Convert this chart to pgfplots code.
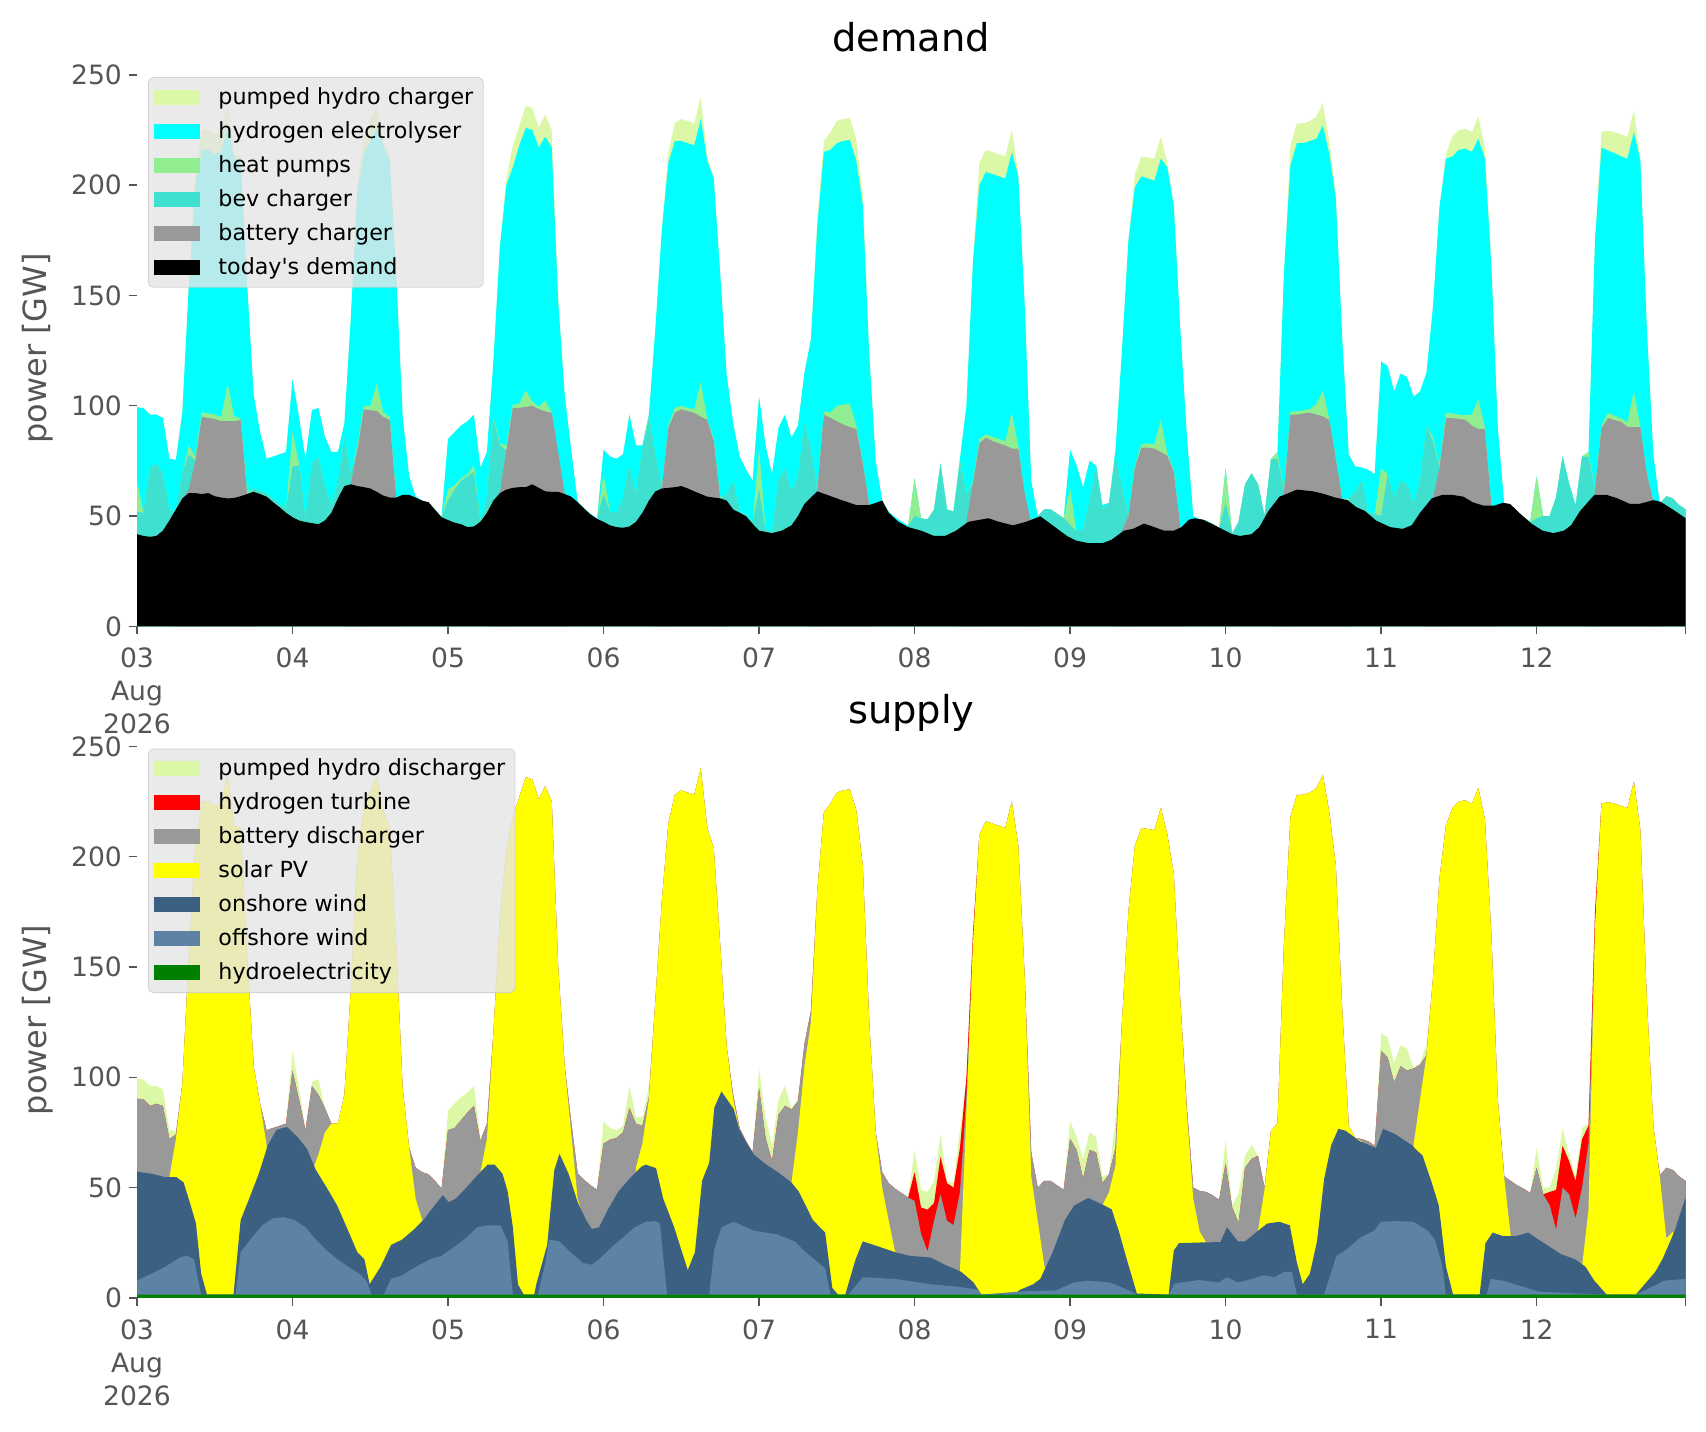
\documentclass[border=0pt]{standalone}
\usepackage{fontspec}
\setmainfont{DejaVu Sans}
\usepackage{pgfplots}
\pgfplotsset{compat=1.18}
\usepackage{pgfplotstable}

\definecolor{cPH}{RGB}{218,248,166}
\definecolor{cH2}{RGB}{0,255,255}
\definecolor{cHP}{RGB}{144,238,144}
\definecolor{cBEV}{RGB}{64,224,208}
\definecolor{cBat}{RGB}{153,153,153}
\definecolor{cRed}{RGB}{255,0,0}
\definecolor{cSol}{RGB}{255,255,0}
\definecolor{cOn}{RGB}{59,96,130}
\definecolor{cOff}{RGB}{92,130,164}
\definecolor{cHyd}{RGB}{0,128,0}
\definecolor{labelgray}{RGB}{85,85,85}
\definecolor{legendbg}{RGB}{229,229,229}
\definecolor{legendborder}{RGB}{204,204,204}

\newcommand\ticklabelfont{\fontsize{13.3pt}{16.5pt}\selectfont}
\newcommand\legendfont{\fontsize{11.1pt}{13.3pt}\selectfont}
\newcommand\ylabelfont{\fontsize{16pt}{19pt}\selectfont}
\newcommand\titlefont{\fontsize{19.2pt}{23pt}\selectfont}

% h = hour from 3 Aug 2026 00:00; tot = total demand = total supply (GW)
% dp = pumped hydro charger, sp = pumped hydro discharger, red = hydrogen turbine
\pgfplotstableread{
h tot dp sp red
0 99.3 0 9 0
1 99 0 9 0
2 96 0 9 0
3 96 0 8 0
4 94.5 0 7.5 0
5 76 0 4 0
6 75.5 0 1.5 0
7 97 0 0 0
8 155 0 0 0
9 205 5 0 0
10 225 9 0 0
11 225 9 0 0
12 223 9 0 0
13 225 10 0 0
14 237 10 0 0
15 214 2 0 0
16 213 2 0 0
17 155 0 0 0
18 105 0 0 0
19 88 0 0 0
20 76 0 0 0
21 77 0 0 0
22 78 0 0 0
23 79 0 0 0
24 112 0 9 0
25 95 0 5 0
26 76 0 0 0
27 98 0 2 0
28 99 0 7 0
29 86 0 0 0
30 79 0 0 0
31 79 0 0 0
32 92 0 0 0
33 140 0 0 0
34 200 3 0 0
35 222 8 0 0
36 230 10 0 0
37 236 10 0 0
38 221 3 0 0
39 213 2 0 0
40 160 0 0 0
41 95 0 0 0
42 68 0 0 0
43 59 0 0 0
44 57 0 0 0
45 56 0 0 0
46 53 0 0 0
47 49.5 0 0 0
48 85 0 9 0
49 88 0 11 0
50 91 0 10.5 0
51 93 0 9 0
52 96 0 9 0
53 72 0 1 0
54 79 0 0 0
55 120 0 0 0
56 172 0 0 0
57 203 3 0 0
58 218 10 0 0
59 227 9 0 0
60 236 10 0 0
61 235 10 0 0
62 226 9 0 0
63 232 10 0 0
64 225 8 0 0
65 150 3 0 0
66 105 0 0 0
67 80 0 0 0
68 56.5 0 0 0
69 53.5 0 0 0
70 51 0 0 0
71 49 0 0 0
72 80 0 10 0
73 77 0 5.3 0
74 76 0 3.5 0
75 78 0 3 0
76 96 0 10 0
77 82 0 3 0
78 82 0 4 0
79 96 0 5 0
80 135 0 0 0
81 180 0 0 0
82 215 5 0 0
83 228 8 0 0
84 230 10 0 0
85 229 10 0 0
86 228 10 0 0
87 240 10 0 0
88 213 2 0 0
89 204 1 0 0
90 160 0 0 0
91 114 0 0 0
92 92 0 0 0
93 77 0 0 0
94 71 0 0 0
95 66 0 0 0
96 104 0 9 0
97 82 0 9.5 0
98 69 0 7 0
99 90 0 7 0
100 96 0 9 0
101 85.5 0 0 0
102 91 0 2 0
103 115 0 0 0
104 130 0 0 0
105 185 3 0 0
106 220 5 0 0
107 224 8 0 0
108 229 10 0 0
109 230 10 0 0
110 230.5 10 0 0
111 221 10 0 0
112 196 5 0 0
113 125 2 0 0
114 75 0 0 0
115 57 0 0 0
116 52 0 0 0
117 49.5 0 0 0
118 47.5 0 0 0
119 45.5 0 0 0
120 67 0 10 13
121 49 0 8 12
122 48 0 8 19
123 53 0 10 8
124 74 0 10 17
125 53 0 1 17
126 52 0 2 17
127 76 0 8 20
128 100 0 0 8
129 165 0 0 5
130 210 10 0 0
131 216 10 0 0
132 215 10 0 0
133 214 10 0 0
134 213 10 0 0
135 225 10 0 0
136 205 1 0 0
137 145 0 0 0
138 66 0 0 0
139 50 0 0 0
140 53 0 0 0
141 53 0 0 0
142 51 0 0 0
143 49 0 0 0
144 80 0 8 0
145 73 0 6 0
146 63 0 9 0
147 75 0 8 0
148 73 0 7 0
149 55 0 3 0
150 56 0 0 0
151 80 0 12 0
152 125 0 0 0
153 175 0 0 0
154 205 6 0 0
155 213 9 0 0
156 212.5 9.5 0 0
157 212 10 0 0
158 222 10 0 0
159 210 2 0 0
160 192 1.5 0 0
161 135 0 0 0
162 87 0 0 0
163 50 0 0 0
164 48.5 0 0 0
165 48 0 0 0
166 46.5 0 0 0
167 44.5 0 0 0
168 71.7 0 10.7 0
169 42 0 1 0
170 47.4 0 13.4 0
171 64.4 0 5.4 0
172 69.3 0 6.3 0
173 64.4 0 0 0
174 50 0 0 0
175 75.8 0 0 0
176 79 0 0 0
177 160 0 0 0
178 218 9 0 0
179 228 9 0 0
180 228 9 0 0
181 229 9 0 0
182 231 10 0 0
183 237 10 0 0
184 220 6 0 0
185 196 2 0 0
186 130 0 0 0
187 78 0 0 0
188 72.5 0 0 0
189 72 0 0 0
190 71 0 0 0
191 69 0 0 0
192 120 0 8 0
193 118 0 9 0
194 106.5 0 8.9 0
195 114.6 0 9.6 0
196 113 0 10 0
197 104 0 0 0
198 106.5 0 0.8 0
199 115 0 5 0
200 145 0 0 0
201 190 0 0 0
202 214 2 0 0
203 222 9 0 0
204 225 9 0 0
205 225.5 9 0 0
206 224 9 0 0
207 231 10 0 0
208 217 5 0 0
209 165 1 0 0
210 90 0 0 0
211 55 0 0 0
212 53 0 0 0
213 51 0 0 0
214 49.5 0 0 0
215 47.5 0 0 0
216 68 0 9 0
217 50 0 3 0
218 50 0 2 6
219 58.6 0 9.6 18
220 77 0 8 19
221 65 0 3 15
222 55 0 2 17
223 77 0 5 22
224 79 0 1 8
225 175 0 0 7
226 224 7 0 0
227 224.7 9 0 0
228 224 9.5 0 0
229 223 10 0 0
230 222 10 0 0
231 234 10 0 0
232 212 1 0 0
233 135 0 0 0
234 78 0 0 0
235 55.5 0 0 0
236 59 0 0 0
237 58 0 0 0
238 55 0 0 0
239 53 0 0 0
}\tot

\pgfplotsset{
  base/.style={
    scale only axis, width=774.35pt, height=278pt,
    xmin=0, xmax=239, ymin=0, ymax=252,
    axis line style={draw=none},
    tick align=outside, tick pos=left,
    major tick length=4pt,
    tick style={color=labelgray, line width=0.7pt},
    xtick={0,24,...,216},
    xticklabels={{03\\Aug\\2026},04,05,06,07,08,09,10,11,12},
    extra x ticks={239}, extra x tick labels={\phantom{0}},
    ytick={0,50,...,250},
    ticklabel style={font=\ticklabelfont, text=labelgray},
    xticklabel style={align=center, yshift=-3.3pt},
    /pgf/number format/assume math mode=true,
    ylabel={power [GW]},
    ylabel style={font=\ylabelfont, text=labelgray, at={(axis description cs:0,0.5)}, anchor=center, yshift=49.5pt},
    title style={font=\titlefont, at={(axis description cs:0.5,1)}, anchor=base, yshift=3.35pt},
    legend cell align=left,
    legend image code/.code={\fill[##1, sharp corners, fill opacity=1, draw=none] (0pt,-3.75pt) rectangle (22.85pt,3.75pt);},
    legend style={at={(axis description cs:0.0071,0.988)}, anchor=north west,
      font=\legendfont, fill=legendbg, fill opacity=0.8, text opacity=1,
      draw=legendborder, draw opacity=0.8, rounded corners=2.5pt,
      inner xsep=3pt, inner ysep=3pt, row sep=3.05pt, column sep=7.2pt},
  },
  ar/.style={draw=none, fill=#1, mark=none}
}

\begin{document}
\begin{tikzpicture}
\path[use as bounding box] (0,0) rectangle (853pt,715.5pt);

% ---------------- demand ----------------
\begin{axis}[base, at={(68.5pt,402.3pt)}, anchor=south west, title={demand}]
\addplot[ar=cPH] table[x=h,y=tot]{\tot} \closedcycle;
\addlegendentry{pumped hydro charger}
\addplot[ar=cH2] table[x=h,y expr=\thisrow{tot}-\thisrow{dp}]{\tot} \closedcycle;
\addlegendentry{hydrogen electrolyser}
\addplot[ar=cHP] coordinates {(0,66)(1,51.5)(2,72)(3,73.5)(4,69)(5,53)(6,52)(7,70)(8,82)(9,77)(10,97)(11,96.5)(12,96)(13,95)(14,110)(15,95.5)(16,94)(17,61)(18,62.5)(19,61.5)(20,60.3)(21,57.8)(22,55.5)(23,53)(24,88)(25,74)(26,48)(27,74)(28,76.6)(29,63.5)(30,55)(31,65)(32,86)(33,69)(34,82)(35,100)(36,100)(37,110)(38,97)(39,95)(40,59)(41,0)(46,0)(47,49.5)(48,62)(49,64)(50,67)(51,69)(52,73)(53,48)(54,58)(55,95)(56,83)(57,82)(58,100.5)(59,101)(60,107)(61,102)(62,99.5)(63,102.5)(64,97)(65,76)(66,60.5)(67,0)(70,0)(71,48.7)(72,69)(73,52)(74,51.5)(75,58)(76,72.5)(77,59.6)(78,80.6)(79,96)(80,78)(81,63)(82,91)(83,99)(84,100)(85,99)(86,98.5)(87,111)(88,94)(89,85)(90,58.5)(91,60)(92,66)(93,52)(94,50.5)(95,47)(96,80.6)(97,44)(98,43)(99,66)(100,71.7)(101,61)(102,67.7)(103,92)(104,80.6)(105,62)(106,97.5)(107,97)(108,100)(109,100.5)(110,101)(111,91)(112,74.5)(113,55.5)(114,0)(118,0)(119,45.5)(120,67)(121,49)(122,48.5)(123,53)(124,73)(125,53)(126,52)(127,75)(128,60)(129,66)(130,85)(131,87)(132,86)(133,85)(134,84)(135,97)(136,82)(137,59)(138,47.5)(139,50)(140,53)(141,53)(142,51)(143,49)(144,62.8)(145,43)(146,44)(147,56)(148,73)(149,53)(150,56)(151,77)(152,63)(153,50.5)(154,73)(155,82.5)(156,83)(157,82.5)(158,93.6)(159,78.5)(160,71)(161,45)(162,0)(166,0)(167,44.2)(168,71.7)(169,42)(170,47.4)(171,64.4)(172,69.3)(173,64.4)(174,50)(175,75.8)(176,79)(177,62)(178,97.5)(179,97.5)(180,98)(181,98.5)(182,100.9)(183,107)(184,94)(185,76.5)(186,57.5)(187,58)(188,61)(189,66)(190,51.5)(191,51)(192,71.7)(193,69)(194,58)(195,66)(196,64.4)(197,55.5)(198,66)(199,90.3)(200,86)(201,73)(202,96.8)(203,96.5)(204,96)(205,95.7)(206,96)(207,103)(208,90.3)(209,55)(210,0)(214,0)(215,47)(216,68)(217,50)(218,50)(219,58.6)(220,77)(221,64.4)(222,54)(223,77)(224,79)(225,62)(226,91)(227,96.8)(228,95.5)(229,94.4)(230,92.5)(231,106.5)(232,90.3)(233,69)(234,57)(235,55.5)(236,59)(237,58)(238,55)(239,53)} \closedcycle;
\addlegendentry{heat pumps}
\addplot[ar=cBEV] coordinates {(0,52)(1,51.5)(2,72)(3,73.5)(4,69)(5,53)(6,52)(7,70)(8,78)(9,75)(10,0)(16,0)(17,60)(18,62.5)(19,61.5)(20,60.3)(21,57.8)(22,55.5)(23,53)(24,72.5)(25,73)(26,48)(27,74)(28,76.6)(29,63.5)(30,55)(31,65)(32,86)(33,69)(34,80)(35,0)(46,0)(47,49.5)(48,57)(49,62)(50,66)(51,68)(52,70)(53,47.5)(54,58)(55,93.6)(56,82)(57,80)(58,0)(70,0)(71,48.7)(72,60)(73,52)(74,51.5)(75,58)(76,72.5)(77,59.6)(78,80.6)(79,95)(80,78)(81,62.5)(82,0)(89,0)(90,58)(91,60)(92,66)(93,52)(94,50.5)(95,47)(96,62)(97,44)(98,43)(99,66)(100,71.7)(101,61)(102,67.7)(103,92)(104,80.6)(105,62)(106,0)(118,0)(119,45.5)(120,50)(121,49)(122,48.5)(123,53)(124,73)(125,53)(126,52)(127,74)(128,60)(129,65)(130,0)(137,0)(138,47.5)(139,50)(140,53)(141,53)(142,51)(143,49)(144,46)(145,43)(146,44)(147,56)(148,73)(149,53)(150,56)(151,77)(152,63)(153,50)(154,0)(166,0)(167,44.2)(168,56)(169,42)(170,47.4)(171,64.4)(172,69.3)(173,64.4)(174,50)(175,75.8)(176,76)(177,62)(178,0)(186,0)(187,58)(188,61)(189,66)(190,51.5)(191,51)(192,50)(193,69)(194,58)(195,66)(196,64.4)(197,55.5)(198,66)(199,90.3)(200,84)(201,72)(202,0)(214,0)(215,47)(216,49)(217,50)(218,50)(219,58.6)(220,77)(221,64.4)(222,54)(223,77)(224,77)(225,62)(226,0)(233,0)(234,57)(235,55.5)(236,59)(237,58)(238,55)(239,53)} \closedcycle;
\addlegendentry{bev charger}
\addplot[ar=cBat] coordinates {(0,0)(6,0)(7,58)(8,62)(9,75)(10,95)(11,94.5)(12,94)(13,93)(14,93)(15,93)(16,93.5)(17,60)(18,0)(32,0)(33,64.4)(34,80)(35,98.4)(36,98)(37,97.6)(38,95)(39,93.6)(40,58.4)(41,0)(55,0)(56,60.4)(57,80)(58,99)(59,99)(60,99.5)(61,100)(62,98.5)(63,97.5)(64,96.8)(65,79)(66,60)(67,0)(80,0)(81,62.5)(82,90)(83,97)(84,98.4)(85,97.5)(86,96.8)(87,95)(88,93.6)(89,84)(90,58)(91,0)(104,0)(105,62)(106,96)(107,94.5)(108,93)(109,91.5)(110,90.3)(111,89.5)(112,74)(113,55)(114,0)(127,0)(128,47.4)(129,65)(130,83)(131,85.5)(132,84)(133,83)(134,82)(135,80.6)(136,80.6)(137,60)(138,47)(139,0)(151,0)(152,43.4)(153,50)(154,72)(155,81)(156,81)(157,80.6)(158,79)(159,77.4)(160,70)(161,45)(162,0)(176,0)(177,60.4)(178,96)(179,96)(180,96.5)(181,96.8)(182,96)(183,95.2)(184,93.6)(185,76)(186,57.5)(187,0)(199,0)(200,58)(201,72)(202,94.4)(203,94.4)(204,94)(205,93.6)(206,91)(207,89.5)(208,89.5)(209,55)(210,0)(224,0)(225,62)(226,90)(227,94.4)(228,93.5)(229,92.8)(230,90.5)(231,90.3)(232,90.3)(233,69)(234,57)(235,0)(239,0)} \closedcycle;
\addlegendentry{battery charger}
\addplot[ar=black] coordinates {(0,41.8)(1,41)(2,40.6)(3,41)(4,43.4)(5,48)(6,53)(7,58)(8,60.4)(9,60.4)(10,60)(11,60.4)(12,59)(13,58.4)(14,58)(15,58.2)(16,59)(17,60)(18,61)(19,60)(20,58.8)(21,56.3)(22,54)(23,51.5)(24,49.5)(25,48)(26,47.3)(27,46.8)(28,46.3)(29,48)(30,51.5)(31,58)(32,63.6)(33,64.4)(34,63.6)(35,63.1)(36,62.5)(37,61)(38,59.3)(39,58.4)(40,58.4)(41,59.6)(42,59.6)(43,58.4)(44,57)(45,56.3)(46,52.8)(47,49.5)(48,48.2)(49,47)(50,46.3)(51,45)(52,45.3)(53,47.4)(54,51.5)(55,57)(56,60.4)(57,62)(58,62.8)(59,63.1)(60,63.1)(61,64.4)(62,62.8)(63,61.2)(64,61)(65,61)(66,60)(67,58.8)(68,56.3)(69,53.4)(70,50.7)(71,48.7)(72,47.4)(73,45.8)(74,45)(75,44.7)(76,45.3)(77,47.4)(78,51.5)(79,57)(80,61.2)(81,62.5)(82,62.8)(83,63.1)(84,63.6)(85,62.5)(86,61.2)(88,58.8)(90,58)(91,57)(92,53)(93,51.5)(94,49.9)(95,46.5)(96,43.4)(98,42.3)(99.5,43.4)(101,45.8)(102,50)(103,55.5)(104,58.5)(105,61.2)(106.5,59.6)(108,58)(111,55)(113,55)(115,57)(116,51.5)(117.5,47.4)(119,45)(121,43.4)(123,41)(124.7,41)(126.4,43.4)(128.3,47.4)(130,48.3)(131.4,49)(133,47.4)(135.2,45.8)(137.2,47.4)(139.4,49.9)(141.3,45.8)(143.5,41)(144.9,38.9)(146.9,37.7)(149,37.7)(150.4,39.3)(152.3,43.4)(153.7,44.2)(155.4,46.6)(157,45)(158.5,43.4)(160,43.4)(161.2,45)(162.3,48.3)(163.2,49)(164.5,48.4)(166.2,46)(167.5,44)(169,41.8)(170.2,41)(172,41.8)(173.2,45)(174.6,52.3)(176.3,58.8)(177.7,60.4)(179,62)(181.5,61.2)(183.2,60)(184.9,58.4)(186.8,57.2)(188.2,54)(189.5,52.3)(191.2,48)(193.4,45)(195.3,44.2)(196.7,45.8)(198,51.5)(199.8,58)(201.4,59.6)(203,59.6)(204.7,58.8)(206.1,56.3)(207.8,54.7)(209.4,54.7)(210.8,56)(211.9,55.5)(213.3,51.5)(215.2,46.6)(216.9,43.4)(218.6,42.3)(220.2,43.4)(221.3,45.8)(222.7,52.3)(224.9,59.6)(226.8,59.6)(228.5,58)(230.4,55.5)(231.8,55.5)(234,57.2)(235.1,56.5)(237.1,52.8)(239,49)} \closedcycle;
\addlegendentry{today\textquotesingle s demand}
\end{axis}

% ---------------- supply ----------------
\begin{axis}[base, at={(68.5pt,66.55pt)}, anchor=south west, title={supply}]
\addplot[ar=cPH] table[x=h,y=tot]{\tot} \closedcycle;
\addlegendentry{pumped hydro discharger}
\addplot[ar=cRed] table[x=h,y expr=\thisrow{tot}-\thisrow{sp}]{\tot} \closedcycle;
\addlegendentry{hydrogen turbine}
\addplot[ar=cBat] table[x=h,y expr=\thisrow{tot}-\thisrow{sp}-\thisrow{red}]{\tot} \closedcycle;
\addlegendentry{battery discharger}
\addplot[ar=cSol] coordinates {(0,0)(4,0)(5,54.7)(6,72)(7,97)(8,155)(9,205)(10,225)(11,225)(12,223)(13,225)(14,237)(15,214)(16,213)(17,155)(18,105)(19,88)(20,69.3)(21,0)(26,0)(27,57)(28,65)(29,75)(30,79)(31,79)(32,92)(33,140)(34,200)(35,222)(36,230)(37,236)(38,221)(39,213)(40,160)(41,95)(42,68)(43,45)(44,35.3)(45,0)(52,0)(53,57)(54,72)(55,120)(56,172)(57,203)(58,218)(59,227)(60,236)(61,235)(62,226)(63,232)(64,225)(65,150)(66,105)(67,75)(68,45)(69,35.3)(70,0)(76,0)(77,59)(78,70)(79,90)(80,135)(81,180)(82,215)(83,228)(84,230)(85,229)(86,228)(87,240)(88,213)(89,204)(90,160)(91,114)(92,90)(93,76)(94,0)(100,0)(101,52.3)(102,75)(103,105)(104,125)(105,185)(106,220)(107,224)(108,229)(109,230)(110,230.5)(111,221)(112,196)(113,125)(114,75)(115,50)(116,35)(117,20.7)(118,0)(126,0)(127,12)(128,85)(129,160)(130,210)(131,216)(132,215)(133,214)(134,213)(135,225)(136,205)(137,145)(138,55)(139,35)(140,15)(141,0)(148,0)(149,42)(150,48)(151,60)(152,125)(153,175)(154,205)(155,213)(156,212.5)(157,212)(158,222)(159,210)(160,192)(161,135)(162,85)(163,45)(164,30)(165,25.1)(166,0)(172,0)(173,30.4)(174,49)(175,75.8)(176,79)(177,160)(178,218)(179,228)(180,228)(181,229)(182,231)(183,237)(184,220)(185,196)(186,130)(187,78)(188,72.5)(189,71)(190,0)(196,0)(197,69.3)(198,90)(199,110)(200,145)(201,190)(202,214)(203,222)(204,225)(205,225.5)(206,224)(207,231)(208,217)(209,165)(210,90)(211,54)(212,28)(213,0)(222,0)(223,14.2)(224,40)(225,168)(226,224)(227,224.7)(228,224)(229,223)(230,222)(231,234)(232,212)(233,135)(234,78)(235,55)(236,27)(237,30)(238,0)(239,0)} \closedcycle;
\addlegendentry{solar PV}
\addplot[ar=cOn] coordinates {(0,57.2)(2.2,56.3)(4.4,54.7)(6.1,54.7)(7.2,52.3)(8.3,41.8)(9.1,33.7)(9.9,11)(10.8,1.5)(14.9,1.5)(16.0,35.3)(17.1,43.4)(18.8,56.3)(20.2,69.3)(21.5,76)(22.4,77)(23.2,77.4)(24.9,72.5)(26.2,67.7)(27.6,58)(29.3,49.9)(30.9,41.8)(32.6,30.4)(34.0,20.7)(35.1,17.5)(35.9,6.2)(36.5,9)(37.6,14.2)(39.2,24)(40.9,26.4)(42.5,30.4)(44.2,35.3)(45.9,41.8)(47.2,46.6)(48.1,43.4)(49.2,45)(50.8,49.9)(52.5,55.5)(54.1,60.4)(55.2,60.4)(56.4,56.3)(57.2,48.3)(58.0,32)(58.8,6)(59.7,1.5)(61.3,1.5)(61.6,6)(63.3,24)(64.4,58)(65.2,65.3)(66.6,56.3)(68.0,43.4)(69.3,35.3)(70.2,31.2)(71.3,32)(72.7,40.2)(74.3,48.3)(76.0,54)(77.9,59.6)(78.5,60.4)(80.1,58.8)(81.2,45)(82.9,32)(84.3,19)(85.0,12.6)(86.1,20.7)(87.2,53)(88.3,61.2)(89.1,86.3)(90.2,93.6)(92.1,85.5)(93,76)(94.1,70)(95.2,65)(97.1,60.4)(98.8,57.2)(101.0,52.3)(102.1,48.3)(104.3,35.3)(106.2,29.6)(107.3,4.5)(108.2,1.5)(109.3,1.5)(110.9,17.5)(112.0,25.6)(113.7,24)(117.0,20.7)(119.2,19.1)(122.5,18.3)(124.7,15)(127.2,11.8)(129.1,7)(130.3,1.5)(135.2,1.5)(136.3,3.7)(138.3,6.2)(139.4,8.6)(141.3,20.7)(143.2,35.3)(144.6,41.8)(146.8,45.3)(148.8,42.6)(150.4,40.2)(151.5,30.4)(152.9,15.9)(154.3,2)(159.2,1.5)(160.0,21.5)(160.8,24.8)(163.9,25.1)(167.2,25.3)(168.2,32)(169.9,25.6)(171.0,25.6)(173.0,30.4)(174.4,33.7)(176.3,34.5)(177.9,32.9)(179.0,15.9)(179.9,6.2)(181.0,11)(182.1,25.6)(183.2,53.9)(184.3,69.3)(185.4,76.6)(186.5,75.8)(188.7,71)(191.2,68)(192.3,76.6)(194.2,74.2)(196.7,69.3)(198.4,64.4)(199.8,52.3)(200.9,41.8)(202.0,14.2)(203.1,1.5)(207.2,1.5)(208.1,24.8)(209.2,29.6)(210.8,28)(212.8,28)(214.7,29.6)(216.3,26.4)(218.0,23.2)(219.7,19.9)(221.9,17.5)(223.5,14.2)(224.9,7.8)(226.8,1.5)(231.3,1.5)(232.9,7)(234.3,11.8)(235.4,17.5)(237.3,30.4)(238.9,45)(239,45)} \closedcycle;
\addlegendentry{onshore wind}
\addplot[ar=cOff] coordinates {(0,7.8)(2.2,11)(4.4,14.2)(6.6,18.3)(7.7,19.1)(8.8,17.5)(9.9,1.5)(15.2,1.5)(16.0,20.7)(17.7,27.2)(19.3,32.9)(21.0,36.1)(22.7,36.6)(24.3,35.3)(26.0,32)(27.6,26.4)(29.3,21.5)(30.9,17.5)(32.6,14.2)(34.3,11)(35.4,7.8)(36.2,1.5)(38.1,1.5)(39.2,8.6)(40.9,10.2)(43.1,14.2)(45.3,17.5)(47.0,19.1)(48.6,22.3)(50.8,27.2)(52.5,32)(54.1,32.9)(56.1,32.9)(57.2,25.6)(58.0,1.5)(61.9,1.5)(63.0,15.9)(63.6,26.4)(65.2,25.6)(66.9,20.7)(68.8,15.9)(70.2,15)(71.3,17.5)(73.0,22.3)(74.6,26.4)(76.8,32)(78.5,34.5)(80.1,34.8)(80.7,33.5)(81.8,1.5)(88.3,1.5)(89.1,22.3)(90.2,32)(92.1,34.5)(95.2,30.4)(98.8,28.8)(101.5,25.6)(103.2,20.7)(106.2,13.4)(107.0,1.5)(109.8,1.5)(112.0,9.4)(117.0,8.6)(122.5,6.2)(126.9,5)(129.7,3.7)(130.3,1.5)(136.3,2.9)(141.9,3.5)(144.6,7)(146.8,7.8)(150.1,7)(152.9,3.7)(154.3,1.5)(159.2,1.5)(160.1,6.5)(163.9,8.1)(166.9,7)(168.2,9.4)(169.9,7)(172.1,8.6)(173.8,10.2)(175.5,9.4)(177.1,11.8)(178.2,11.8)(179.0,1.5)(183.2,1.5)(185.1,19.1)(186.5,21.5)(188.7,27.2)(190.9,30.4)(192.0,34.5)(194.2,34.8)(197.0,34.5)(199.2,30.4)(200.3,26.4)(201.4,15)(202.0,1.5)(208.3,1.5)(208.9,8.6)(210.8,7.8)(213.6,5.3)(216.3,2.9)(221.9,2)(226.8,1.5)(231.3,1.5)(232.9,3.7)(235.7,7.8)(238.9,8.6)(239,8.6)} \closedcycle;
\addlegendentry{offshore wind}
\addplot[ar=cHyd] coordinates {(0,1.5)(60,1.5)(120,1.5)(180,1.5)(239,1.5)} \closedcycle;
\addlegendentry{hydroelectricity}
\end{axis}
\end{tikzpicture}
\end{document}
